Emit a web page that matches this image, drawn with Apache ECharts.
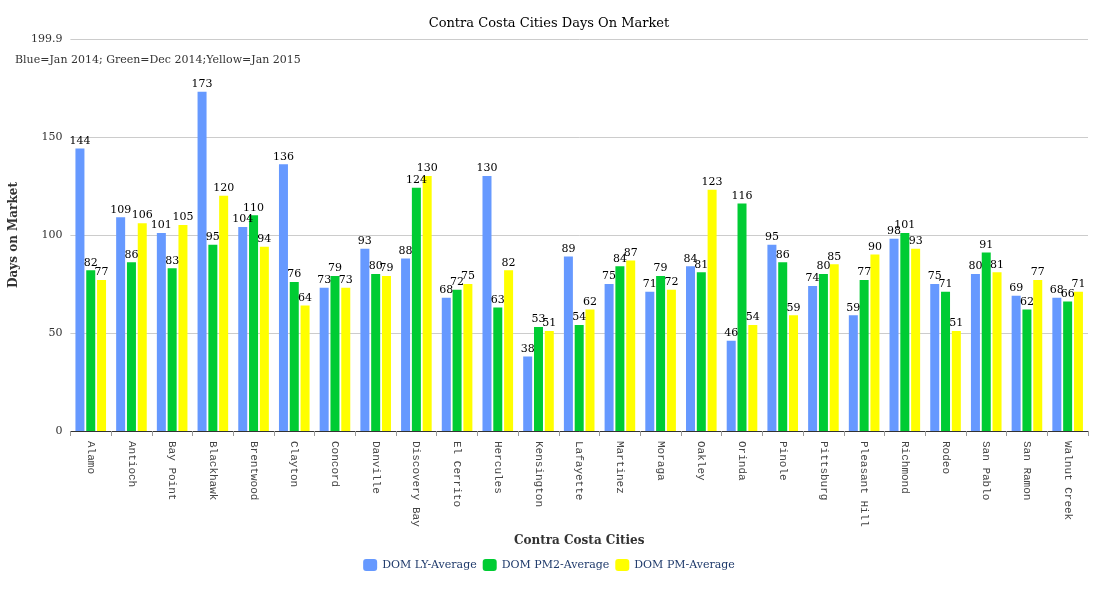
<!DOCTYPE html>
<html>
<head>
<meta charset="utf-8">
<script src="https://cdn.jsdelivr.net/npm/echarts@6/dist/echarts.min.js"></script>
<style>html,body{margin:0;padding:0;background:#fff}#chart{width:1098px;height:600px}</style>
</head>
<body>
<div id="chart"></div>
<script>
// cities on x axis
const cities = ['Alamo', 'Antioch', 'Bay Point', 'Blackhawk', 'Brentwood', 'Clayton', 'Concord', 'Danville',
  'Discovery Bay', 'El Cerrito', 'Hercules', 'Kensington', 'Lafayette', 'Martinez', 'Moraga', 'Oakley',
  'Orinda', 'Pinole', 'Pittsburg', 'Pleasant Hill', 'Richmond', 'Rodeo', 'San Pablo', 'San Ramon', 'Walnut Creek'];
const domLY = [144, 109, 101, 173, 104, 136, 73, 93, 88, 68, 130, 38, 89, 75, 71, 84, 46, 95, 74, 59, 98, 75, 80, 69, 68];
const domPM2 = [82, 86, 83, 95, 110, 76, 79, 80, 124, 72, 63, 53, 54, 84, 79, 81, 116, 86, 80, 77, 101, 71, 91, 62, 66];
const domPM = [77, 106, 105, 120, 94, 64, 73, 79, 130, 75, 82, 51, 62, 87, 72, 123, 54, 59, 85, 90, 93, 51, 81, 77, 71];

const serif = 'DejaVu Serif';
const lbl = { show: true, position: 'top', color: '#000', fontFamily: serif, fontSize: 11, distance: 2 };

const chart = echarts.init(document.getElementById('chart'));
chart.setOption({
  animation: false,
  title: [
    { text: 'Contra Costa Cities Days On Market', left: 'center', top: 12,
      textStyle: { fontFamily: serif, fontSize: 13, fontWeight: 'normal', color: '#000' } },
    { text: 'Blue=Jan 2014; Green=Dec 2014;Yellow=Jan 2015', left: 10, top: 50,
      textStyle: { fontFamily: serif, fontSize: 11, fontWeight: 'normal', color: '#333' } }
  ],
  legend: {
    bottom: 24, itemWidth: 14, itemHeight: 12, itemGap: 6,
    textStyle: { fontFamily: serif, fontSize: 11, color: '#1f3a6b' },
    data: ['DOM LY-Average', 'DOM PM2-Average', 'DOM PM-Average']
  },
  grid: { left: 60, right: 10, top: 39, bottom: 169 },
  xAxis: {
    type: 'category', data: cities,
    name: 'Contra Costa Cities', nameLocation: 'middle', nameGap: 84,
    nameTextStyle: { fontFamily: serif, fontWeight: 'bold', fontSize: 12, color: '#333' },
    axisLine: { lineStyle: { color: '#333' } },
    axisTick: { show: true, alignWithLabel: false, lineStyle: { color: '#999' } },
    axisLabel: { rotate: -90, interval: 0, fontFamily: 'Liberation Mono', fontSize: 11, color: '#444', margin: 10 }
  },
  yAxis: {
    type: 'value', min: 0, max: 199.9, interval: 50,
    name: 'Days on Market', nameLocation: 'middle', nameGap: 36,
    nameTextStyle: { fontFamily: serif, fontWeight: 'bold', fontSize: 12, color: '#333' },
    axisLine: { show: false }, axisTick: { show: false },
    axisLabel: { fontFamily: serif, fontSize: 11, color: '#333' },
    splitLine: { lineStyle: { color: '#ccc' } }
  },
  series: [
    { name: 'DOM LY-Average', type: 'bar', data: domLY, itemStyle: { color: '#6699ff' }, barWidth: 9, barGap: '20%', label: lbl },
    { name: 'DOM PM2-Average', type: 'bar', data: domPM2, itemStyle: { color: '#00cc33' }, barWidth: 9, barGap: '20%', label: lbl },
    { name: 'DOM PM-Average', type: 'bar', data: domPM, itemStyle: { color: '#ffff00' }, barWidth: 9, barGap: '20%', label: lbl }
  ]
});
</script>
</body>
</html>
